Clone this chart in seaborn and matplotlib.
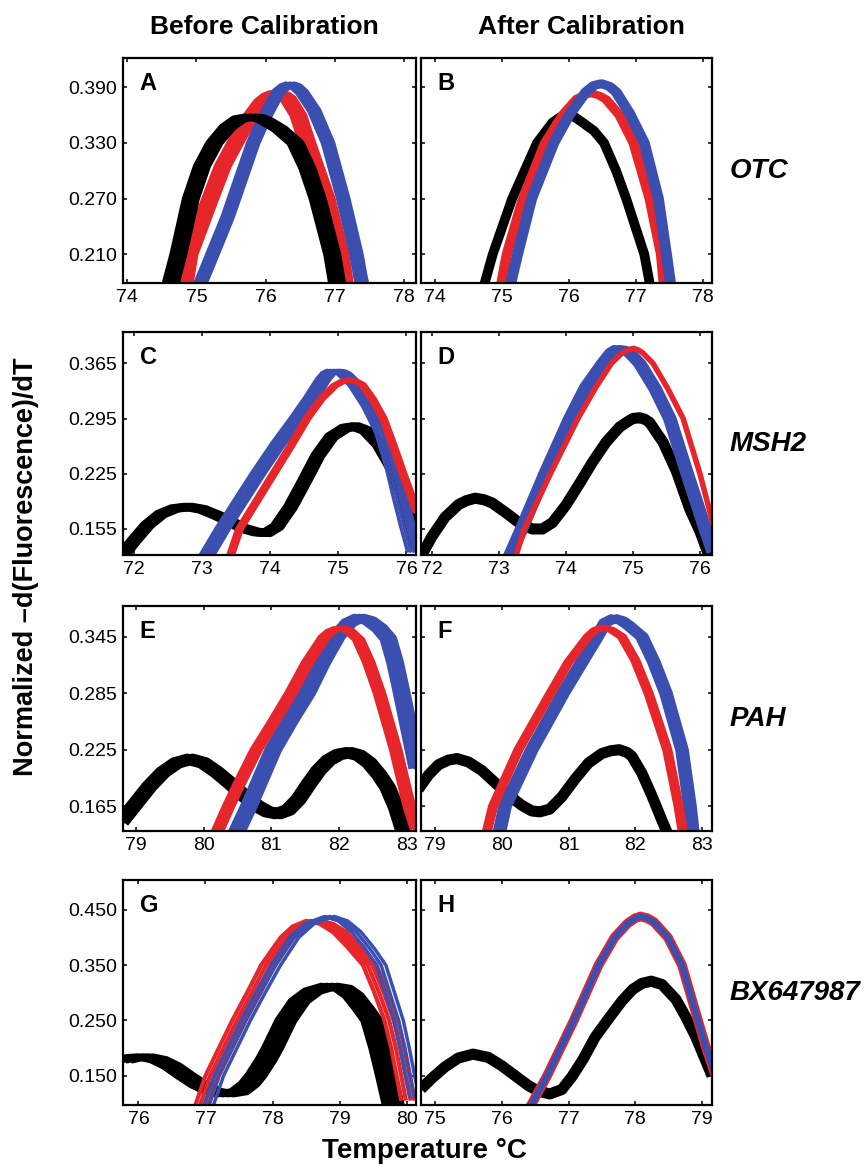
import matplotlib
matplotlib.use("Agg")
import matplotlib.pyplot as plt
import seaborn as sns
import pandas as pd

sns.set_style("ticks", {"xtick.direction": "in", "ytick.direction": "in"})
plt.rcParams['font.family'] = ['Liberation Sans', 'DejaVu Sans']
plt.rcParams['text.color'] = 'black'
plt.rcParams['xtick.color'] = 'black'
plt.rcParams['ytick.color'] = 'black'

BLACK = "#000000"
BLUE = "#3a4fb0"
RED = "#e6262b"

# ---------------- data (temperature, -dF/dT) ----------------
# OTC, before calibration (A)
A_black_T = [74.55, 74.63, 74.74, 74.92, 75.08, 75.26, 75.45, 75.62, 75.78, 75.9, 76.0, 76.2, 76.43, 76.6, 76.75, 76.96, 77.03, 77.12]
A_black_y = [0.165, 0.179, 0.21, 0.27, 0.305, 0.33, 0.347, 0.356, 0.358, 0.357, 0.354, 0.345, 0.33, 0.303, 0.27, 0.21, 0.179, 0.16]
A_black_shift = [-0.08, 0.0, 0.08]
A_red_T = [74.8, 74.9, 75.2, 75.38, 75.56, 75.75, 75.95, 76.05, 76.15, 76.25, 76.32, 76.47, 76.6, 76.88, 77.08, 77.16]
A_red_y = [0.165, 0.21, 0.27, 0.305, 0.33, 0.355, 0.375, 0.381, 0.384, 0.382, 0.378, 0.36, 0.33, 0.27, 0.21, 0.17]
A_red_shift = [-0.09, -0.03, 0.03, 0.09]
A_blue_T = [74.98, 75.06, 75.15, 75.45, 75.82, 76.0, 76.18, 76.28, 76.35, 76.43, 76.52, 76.7, 76.9, 77.12, 77.31, 77.37, 77.42]
A_blue_y = [0.165, 0.179, 0.195, 0.25, 0.33, 0.36, 0.385, 0.391, 0.393, 0.391, 0.385, 0.365, 0.33, 0.27, 0.21, 0.185, 0.17]
A_blue_shift = [-0.06, 0.0, 0.06]

# OTC, after calibration (B)
B_black_T = [74.68, 74.74, 74.86, 75.15, 75.52, 75.75, 75.87, 75.97, 76.08, 76.2, 76.37, 76.52, 76.7, 76.85, 77.12, 77.2, 77.26]
B_black_y = [0.165, 0.179, 0.21, 0.27, 0.33, 0.352, 0.358, 0.36, 0.358, 0.352, 0.343, 0.33, 0.30, 0.27, 0.21, 0.179, 0.165]
B_black_shift = [0.0]
B_red_T = [74.93, 74.99, 75.07, 75.31, 75.64, 75.9, 76.12, 76.24, 76.34, 76.45, 76.55, 76.75, 76.96, 77.2, 77.37, 77.41, 77.45]
B_red_y = [0.165, 0.179, 0.21, 0.27, 0.33, 0.36, 0.378, 0.382, 0.3835, 0.381, 0.377, 0.36, 0.33, 0.27, 0.21, 0.179, 0.165]
B_red_shift = [-0.025, 0.025]
B_blue_T = [75.07, 75.13, 75.23, 75.44, 75.77, 76.0, 76.25, 76.37, 76.48, 76.6, 76.7, 76.9, 77.12, 77.33, 77.45, 77.51, 77.55]
B_blue_y = [0.165, 0.179, 0.21, 0.27, 0.33, 0.36, 0.385, 0.392, 0.394, 0.391, 0.385, 0.362, 0.33, 0.27, 0.21, 0.179, 0.165]
B_blue_shift = [-0.02, 0.02]

# MSH2, before calibration (C)
C_black_T = [71.8, 72.0, 72.2, 72.4, 72.6, 72.8, 73.0, 73.2, 73.4, 73.6, 73.8, 73.95, 74.1, 74.3, 74.5, 74.7, 74.9, 75.1, 75.25, 75.4, 75.6, 75.8, 76.0, 76.16]
C_black_y = [0.118, 0.14, 0.16, 0.174, 0.181, 0.183, 0.18, 0.173, 0.165, 0.156, 0.151, 0.15, 0.158, 0.183, 0.215, 0.248, 0.272, 0.283, 0.285, 0.28, 0.262, 0.232, 0.185, 0.13]
C_black_shift = [-0.05, 0.0, 0.05]
C_red_T = [73.42, 73.55, 73.8, 74.05, 74.3, 74.54, 74.75, 74.95, 75.06, 75.16, 75.26, 75.35, 75.5, 75.66, 75.8, 75.95, 76.16]
C_red_y = [0.122, 0.155, 0.19, 0.225, 0.26, 0.295, 0.32, 0.337, 0.342, 0.344, 0.342, 0.338, 0.32, 0.295, 0.262, 0.225, 0.175]
C_red_shift = [-0.03, 0.03]
C_blue_T = [73.1, 73.34, 73.6, 73.86, 74.15, 74.43, 74.65, 74.82, 74.9, 74.97, 75.05, 75.12, 75.3, 75.5, 75.69, 75.85, 75.95, 76.05, 76.16]
C_blue_y = [0.12, 0.155, 0.19, 0.225, 0.262, 0.295, 0.322, 0.345, 0.353, 0.356, 0.355, 0.352, 0.337, 0.31, 0.277, 0.23, 0.194, 0.16, 0.125]
C_blue_shift = [-0.14, -0.09, -0.04, 0.0, 0.03, 0.06]

# MSH2, after calibration (D)
D_black_T = [71.84, 72.0, 72.2, 72.4, 72.52, 72.65, 72.78, 72.9, 73.1, 73.3, 73.5, 73.65, 73.8, 74.0, 74.2, 74.4, 74.6, 74.8, 74.92, 75.0, 75.1, 75.18, 75.25, 75.45, 75.65, 75.85, 76.0, 76.16]
D_black_y = [0.12, 0.145, 0.17, 0.186, 0.191, 0.194, 0.192, 0.188, 0.176, 0.163, 0.155, 0.155, 0.163, 0.185, 0.212, 0.24, 0.265, 0.284, 0.291, 0.295, 0.296, 0.294, 0.29, 0.265, 0.228, 0.18, 0.152, 0.115]
D_black_shift = [0.0]
D_red_T = [73.2, 73.26, 73.38, 73.77, 74.18, 74.45, 74.68, 74.85, 74.93, 75.01, 75.08, 75.15, 75.3, 75.52, 75.75, 76.0, 76.2]
D_red_y = [0.11, 0.122, 0.155, 0.225, 0.295, 0.335, 0.365, 0.379, 0.382, 0.384, 0.382, 0.378, 0.365, 0.333, 0.295, 0.225, 0.16]
D_red_shift = [0.0]
D_blue_T = [73.1, 73.17, 73.34, 73.69, 74.06, 74.3, 74.55, 74.68, 74.76, 74.85, 74.93, 75.1, 75.33, 75.55, 75.81, 76.08, 76.2]
D_blue_y = [0.11, 0.122, 0.155, 0.225, 0.295, 0.335, 0.365, 0.379, 0.383, 0.382, 0.38, 0.365, 0.333, 0.295, 0.225, 0.155, 0.125]
D_blue_shift = [-0.04, 0.04]

# PAH, before calibration (E)
E_black_T = [78.78, 79.0, 79.2, 79.4, 79.6, 79.8, 80.0, 80.2, 80.4, 80.6, 80.8, 80.95, 81.1, 81.25, 81.4, 81.55, 81.7, 81.85, 82.0, 82.15, 82.3, 82.45, 82.6, 82.72, 82.85, 82.95, 83.02]
E_black_y = [0.148, 0.168, 0.186, 0.201, 0.211, 0.215, 0.211, 0.201, 0.189, 0.176, 0.165, 0.159, 0.157, 0.161, 0.172, 0.188, 0.203, 0.214, 0.22, 0.222, 0.219, 0.211, 0.198, 0.185, 0.163, 0.14, 0.125]
E_black_shift = [-0.04, 0.04]
E_red_T = [80.15, 80.22, 80.38, 80.58, 80.79, 81.05, 81.3, 81.55, 81.8, 81.9, 82.0, 82.08, 82.15, 82.3, 82.45, 82.61, 82.73, 82.85, 82.95, 83.05, 83.16]
E_red_y = [0.125, 0.139, 0.165, 0.195, 0.225, 0.255, 0.285, 0.318, 0.345, 0.351, 0.354, 0.354, 0.352, 0.342, 0.318, 0.285, 0.255, 0.225, 0.195, 0.165, 0.14]
E_red_shift = [-0.08, -0.03, 0.02, 0.06]
E_blue_T = [80.4, 80.5, 80.67, 80.85, 81.03, 81.28, 81.53, 81.75, 81.97, 82.15, 82.3, 82.45, 82.6, 82.73, 82.83, 82.93, 83.03, 83.16]
E_blue_y = [0.125, 0.139, 0.165, 0.195, 0.225, 0.256, 0.285, 0.317, 0.345, 0.36, 0.365, 0.362, 0.354, 0.343, 0.318, 0.285, 0.25, 0.205]
E_blue_shift = [-0.07, 0.0, 0.07]

# PAH, after calibration (F)
F_black_T = [78.75, 78.9, 79.05, 79.2, 79.33, 79.5, 79.7, 79.9, 80.1, 80.3, 80.45, 80.57, 80.72, 80.9, 81.1, 81.3, 81.5, 81.64, 81.76, 81.88, 81.95, 82.1, 82.25, 82.4, 82.52]
F_black_y = [0.183, 0.198, 0.209, 0.214, 0.2156, 0.212, 0.203, 0.19, 0.177, 0.166, 0.16, 0.159, 0.162, 0.175, 0.194, 0.211, 0.221, 0.224, 0.225, 0.222, 0.218, 0.2, 0.176, 0.15, 0.13]
F_black_shift = [0.0]
F_red_T = [79.72, 79.78, 79.87, 80.25, 80.73, 81.0, 81.29, 81.4, 81.52, 81.65, 81.8, 82.0, 82.2, 82.48, 82.65, 82.71, 82.76]
F_red_y = [0.125, 0.139, 0.165, 0.225, 0.285, 0.318, 0.345, 0.352, 0.355, 0.352, 0.345, 0.32, 0.285, 0.225, 0.165, 0.139, 0.125]
F_red_shift = [-0.035, 0.035]
F_blue_T = [79.9, 79.97, 80.05, 80.45, 80.92, 81.2, 81.43, 81.55, 81.68, 81.8, 81.9, 82.1, 82.28, 82.46, 82.7, 82.82, 82.86, 82.9]
F_blue_y = [0.125, 0.139, 0.165, 0.225, 0.285, 0.318, 0.345, 0.36, 0.3645, 0.362, 0.357, 0.345, 0.318, 0.285, 0.225, 0.165, 0.139, 0.125]
F_blue_shift = [-0.04, 0.04]

# BX647987, before calibration (G)
G_black_T = [75.77, 75.95, 76.1, 76.3, 76.5, 76.7, 76.9, 77.1, 77.3, 77.5, 77.65, 77.75, 77.9, 78.0, 78.2, 78.4, 78.6, 78.85, 79.05, 79.2, 79.35, 79.48, 79.6, 79.7, 79.8]
G_black_y = [0.178, 0.183, 0.184, 0.179, 0.167, 0.15, 0.134, 0.122, 0.117, 0.121, 0.135, 0.15, 0.178, 0.2, 0.25, 0.285, 0.303, 0.312, 0.308, 0.295, 0.272, 0.25, 0.2, 0.15, 0.097]
G_black_shift = [-0.12, -0.04, 0.04, 0.12]
G_red_T = [76.9, 76.95, 77.1, 77.3, 77.5, 77.72, 77.93, 78.22, 78.4, 78.6, 78.8, 79.0, 79.2, 79.45, 79.62, 79.77, 79.87, 79.95, 80.02]
G_red_y = [0.085, 0.097, 0.15, 0.2, 0.25, 0.3, 0.35, 0.4, 0.42, 0.43, 0.425, 0.41, 0.385, 0.35, 0.30, 0.25, 0.20, 0.15, 0.105]
G_red_shift = [-0.1, -0.03, 0.04, 0.1]
G_blue_T = [77.0, 77.05, 77.2, 77.4, 77.6, 77.82, 78.05, 78.32, 78.55, 78.85, 79.05, 79.25, 79.45, 79.62, 79.75, 79.88, 79.97, 80.05, 80.12]
G_blue_y = [0.085, 0.097, 0.15, 0.2, 0.25, 0.3, 0.35, 0.4, 0.425, 0.438, 0.43, 0.41, 0.38, 0.35, 0.3, 0.25, 0.2, 0.15, 0.11]
G_blue_shift = [-0.07, 0.0, 0.07]

# BX647987, after calibration (H)
H_black_T = [74.79, 74.95, 75.15, 75.35, 75.57, 75.8, 76.0, 76.2, 76.4, 76.55, 76.72, 76.9, 77.05, 77.22, 77.4, 77.63, 77.8, 77.96, 78.1, 78.24, 78.4, 78.61, 78.75, 78.9, 79.15]
H_black_y = [0.126, 0.145, 0.166, 0.182, 0.189, 0.183, 0.168, 0.15, 0.132, 0.122, 0.117, 0.125, 0.148, 0.18, 0.22, 0.258, 0.285, 0.306, 0.317, 0.321, 0.315, 0.288, 0.258, 0.222, 0.15]
H_black_shift = [0.0]
H_red_T = [76.38, 76.44, 76.68, 77.08, 77.45, 77.69, 77.88, 78.0, 78.08, 78.18, 78.28, 78.49, 78.7, 78.94, 79.05, 79.2]
H_red_y = [0.085, 0.097, 0.15, 0.25, 0.35, 0.4, 0.425, 0.435, 0.438, 0.435, 0.428, 0.4, 0.35, 0.25, 0.205, 0.15]
H_red_shift = [0.0]
H_blue_T = [76.38, 76.44, 76.68, 77.08, 77.45, 77.69, 77.88, 78.0, 78.08, 78.18, 78.28, 78.49, 78.7, 78.94, 79.05, 79.2]
H_blue_y = [0.085, 0.097, 0.15, 0.25, 0.35, 0.4, 0.425, 0.435, 0.438, 0.435, 0.428, 0.4, 0.35, 0.25, 0.205, 0.15]
H_blue_shift = [0.0]

genes = ["OTC", "MSH2", "PAH", "BX647987"]
row_yticks = [[0.210, 0.270, 0.330, 0.390],
              [0.155, 0.225, 0.295, 0.365],
              [0.165, 0.225, 0.285, 0.345],
              [0.150, 0.250, 0.350, 0.450]]
row_ylims = [(0.179, 0.4216), (0.122, 0.4047), (0.1387, 0.3776), (0.097, 0.504)]
panel_xticks = {"A": [74, 75, 76, 77, 78], "B": [74, 75, 76, 77, 78],
                "C": [72, 73, 74, 75, 76], "D": [72, 73, 74, 75, 76],
                "E": [79, 80, 81, 82, 83], "F": [79, 80, 81, 82, 83],
                "G": [76, 77, 78, 79, 80], "H": [75, 76, 77, 78, 79]}
panel_xlims = {"A": (73.94, 78.17), "B": (73.79, 78.13), "C": (71.84, 76.14), "D": (71.84, 76.18),
               "E": (78.81, 83.14), "F": (78.79, 83.15), "G": (75.77, 80.14), "H": (74.79, 79.15)}

# line widths (points) and draw order for each panel
panels = {
    "A": [(A_red_T, A_red_y, A_red_shift, RED, 4), (A_blue_T, A_blue_y, A_blue_shift, BLUE, 4.5),
          (A_black_T, A_black_y, A_black_shift, BLACK, 5)],
    "B": [(B_black_T, B_black_y, B_black_shift, BLACK, 7), (B_red_T, B_red_y, B_red_shift, RED, 5),
          (B_blue_T, B_blue_y, B_blue_shift, BLUE, 6)],
    "C": [(C_black_T, C_black_y, C_black_shift, BLACK, 6), (C_blue_T, C_blue_y, C_blue_shift, BLUE, 2.5),
          (C_red_T, C_red_y, C_red_shift, RED, 3.5)],
    "D": [(D_black_T, D_black_y, D_black_shift, BLACK, 8), (D_blue_T, D_blue_y, D_blue_shift, BLUE, 6),
          (D_red_T, D_red_y, D_red_shift, RED, 4)],
    "E": [(E_black_T, E_black_y, E_black_shift, BLACK, 8), (E_blue_T, E_blue_y, E_blue_shift, BLUE, 6),
          (E_red_T, E_red_y, E_red_shift, RED, 3)],
    "F": [(F_black_T, F_black_y, F_black_shift, BLACK, 8), (F_blue_T, F_blue_y, F_blue_shift, BLUE, 6),
          (F_red_T, F_red_y, F_red_shift, RED, 4)],
    "G": [(G_black_T, G_black_y, G_black_shift, BLACK, 5), (G_red_T, G_red_y, G_red_shift, RED, 3),
          (G_blue_T, G_blue_y, G_blue_shift, BLUE, 2.5)],
    "H": [(H_black_T, H_black_y, H_black_shift, BLACK, 8), (H_red_T, H_red_y, H_red_shift, RED, 7),
          (H_blue_T, H_blue_y, H_blue_shift, BLUE, 4.5)],
}

W, H = 864, 1167
fig = plt.figure(figsize=(W / 100, H / 100), dpi=100)

row_px = [(58, 283), (332, 555), (606, 831), (880, 1105)]
col_px = [(123, 416), (421, 712)]
letters = [["A", "B"], ["C", "D"], ["E", "F"], ["G", "H"]]


def bundle_frame(T, y, shifts):
    parts = []
    for i, s in enumerate(shifts):
        parts.append(pd.DataFrame({"T": [t + s for t in T], "y": y, "rep": i}))
    return pd.concat(parts, ignore_index=True)


for r, (top, bot) in enumerate(row_px):
    for c, (left, right) in enumerate(col_px):
        key = letters[r][c]
        ax = fig.add_axes([left / W, 1 - bot / H, (right - left) / W, (bot - top) / H])
        for T, y, shifts, color, lw in panels[key]:
            df = bundle_frame(T, y, shifts)
            sns.lineplot(data=df, x="T", y="y", units="rep", estimator=None, sort=False,
                         color=color, linewidth=lw, ax=ax, legend=False,
                         solid_joinstyle="round", solid_capstyle="butt")
        ax.set_xlim(*panel_xlims[key])
        ax.set_ylim(*row_ylims[r])
        ax.set_xticks(panel_xticks[key])
        ax.set_xticklabels([str(t) for t in panel_xticks[key]])
        ax.set_yticks(row_yticks[r])
        if c == 0:
            ax.set_yticklabels([f"{v:.3f}" for v in row_yticks[r]])
        else:
            ax.set_yticklabels([])
        ax.set_xlabel("")
        ax.set_ylabel("")
        ax.tick_params(direction="in", top=True, right=True, length=3, width=1.1,
                       labelsize=14, pad=4, colors="black")
        for sp in ax.spines.values():
            sp.set_visible(True)
            sp.set_linewidth(1.6)
            sp.set_color("black")
        ax.annotate(key, xy=(0, 1), xycoords="axes fraction", xytext=(12, -10),
                    textcoords="offset points", ha="left", va="top",
                    fontsize=17, fontweight="bold", color="black")
    fig.text(730 / W, 1 - ((top + bot) / 2) / H, genes[r], ha="left", va="center",
             fontsize=20, fontweight="bold", fontstyle="italic", color="black")

fig.text(264 / W, 1 - 27 / H, "Before Calibration", ha="center", va="center",
         fontsize=19, fontweight="bold", color="black")
fig.text(581 / W, 1 - 27 / H, "After Calibration", ha="center", va="center",
         fontsize=19, fontweight="bold", color="black")
fig.text(26 / W, 1 - 567 / H, "Normalized \u2013d(Fluorescence)/dT", rotation=90,
         ha="center", va="center", fontsize=19.5, fontweight="bold", color="black")
fig.text(424 / W, 1 - 1151 / H, "Temperature \u00b0C", ha="center", va="center",
         fontsize=20, fontweight="bold", color="black")

fig.savefig("out.png", dpi=100)
